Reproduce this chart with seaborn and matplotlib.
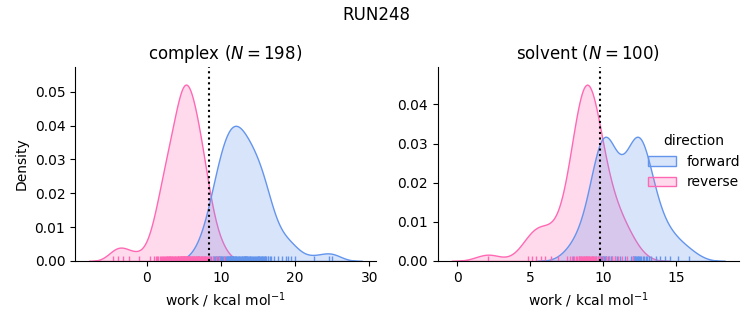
import numpy as np
import pandas as pd
import seaborn as sns
import matplotlib
matplotlib.use("Agg")
import matplotlib.pyplot as plt

# ---- data (work values in kcal/mol) ----
phases = ["complex", "solvent"]
directions = ["forward", "reverse"]

complex_forward = [7.0, 7.5, 7.9, 8.4, 8.7, 8.9, 9.1, 9.2, 9.3, 9.4, 9.5, 9.6, 9.7, 9.7, 9.8, 9.9, 10.0, 10.1,
                   10.2, 10.3, 10.4, 10.6, 10.7, 10.8, 10.9, 11.0, 11.0, 11.1, 11.2, 11.2, 11.3, 11.3, 11.4, 11.5,
                   11.5, 11.6, 11.6, 11.7, 11.8, 11.9, 11.9, 12.0, 12.1, 12.2, 12.3, 12.4, 12.5, 12.6, 12.7, 12.8,
                   12.9, 13.0, 13.1, 13.1, 13.2, 13.2, 13.3, 13.4, 13.4, 13.5, 13.6, 13.7, 13.8, 13.9, 14.0, 14.1,
                   14.2, 14.3, 14.5, 14.6, 14.8, 14.9, 15.0, 15.0, 15.1, 15.2, 15.3, 15.4, 15.5, 15.6, 15.7, 15.8,
                   15.9, 16.0, 16.1, 16.3, 16.4, 16.6, 16.8, 17.2, 17.7, 18.2, 18.8, 19.1, 19.5, 20.0, 22.5, 24.6,
                   25.0]
complex_reverse = [-4.5, -3.9, -3.2, -2.4, -1.0, 0.5, 1.0, 1.3, 1.4, 1.6, 1.8, 2.0, 2.1, 2.2, 2.4, 2.5, 2.6, 2.7,
                   2.8, 2.9, 3.0, 3.0, 3.1, 3.2, 3.3, 3.4, 3.5, 3.6, 3.7, 3.8, 3.9, 4.0, 4.1, 4.2, 4.3, 4.3, 4.4,
                   4.5, 4.5, 4.6, 4.6, 4.7, 4.8, 4.8, 4.9, 4.9, 4.9, 5.0, 5.0, 5.1, 5.1, 5.2, 5.2, 5.3, 5.3, 5.4,
                   5.4, 5.5, 5.5, 5.6, 5.7, 5.7, 5.8, 5.9, 5.9, 6.0, 6.1, 6.1, 6.2, 6.3, 6.4, 6.4, 6.5, 6.6, 6.6,
                   6.7, 6.8, 6.9, 6.9, 7.0, 7.1, 7.1, 7.2, 7.3, 7.4, 7.5, 7.6, 7.7, 7.8, 7.9, 8.0, 8.1, 8.3, 8.4,
                   8.6, 8.9, 9.3, 9.8, 10.4]
solvent_forward = [7.9, 8.3, 8.8, 9.3, 9.5, 9.6, 9.7, 9.75, 9.8, 9.85, 9.9, 9.95, 10.0, 10.05, 10.1, 10.15, 10.2,
                   10.3, 10.4, 10.5, 10.6, 10.8, 10.95, 11.15, 11.45, 11.9, 12.0, 12.05, 12.1, 12.15, 12.2, 12.25,
                   12.3, 12.35, 12.4, 12.45, 12.5, 12.6, 12.7, 12.8, 12.9, 13.0, 13.1, 13.25, 13.6, 13.9, 14.2,
                   14.6, 15.1, 15.9]
solvent_reverse = [2.1, 4.8, 5.1, 5.4, 5.7, 6.0, 6.4, 6.9, 7.5, 7.7, 7.85, 8.0, 8.1, 8.2, 8.3, 8.35, 8.4, 8.45,
                   8.5, 8.55, 8.6, 8.65, 8.7, 8.75, 8.8, 8.85, 8.9, 8.95, 9.0, 9.05, 9.1, 9.15, 9.2, 9.25, 9.3,
                   9.35, 9.4, 9.5, 9.6, 9.7, 9.8, 10.0, 10.2, 10.4, 10.6, 10.8, 11.0, 11.3, 11.6, 12.0]

# free-energy estimates shown as dotted vertical lines
estimate_complex = 8.45
estimate_solvent = 9.75

palette = {"forward": "cornflowerblue", "reverse": "hotpink"}

# ---- assemble long-form table ----
series = {("complex", "forward"): complex_forward, ("complex", "reverse"): complex_reverse,
          ("solvent", "forward"): solvent_forward, ("solvent", "reverse"): solvent_reverse}
frames = [pd.DataFrame({"phase": ph, "direction": d, "work": vals}) for (ph, d), vals in series.items()]
df = pd.concat(frames, ignore_index=True)

g = sns.displot(df, x="work", hue="direction", col="phase", kind="kde", fill=True, rug=True,
                palette=palette, hue_order=directions, col_order=phases,
                facet_kws=dict(sharex=False, sharey=False), height=3, aspect=1.2)

for ax, ph, est in zip(g.axes.flat, phases, [estimate_complex, estimate_solvent]):
    n = int((df["phase"] == ph).sum())
    ax.set_title(f"{ph} ($N = {n}$)")
    ax.axvline(est, color="black", ls=":")
    ax.set_xlabel("work / kcal mol$^{-1}$")

g.figure.suptitle("RUN248")
g.figure.set_size_inches(7.53, 3.25)
g.figure.subplots_adjust(left=0.0996, right=0.981, bottom=0.197, top=0.794, wspace=0.206)
sns.move_legend(g, "center right", bbox_to_anchor=(1.0, 0.503), frameon=False)
g.figure.savefig("out.png", dpi=100)
